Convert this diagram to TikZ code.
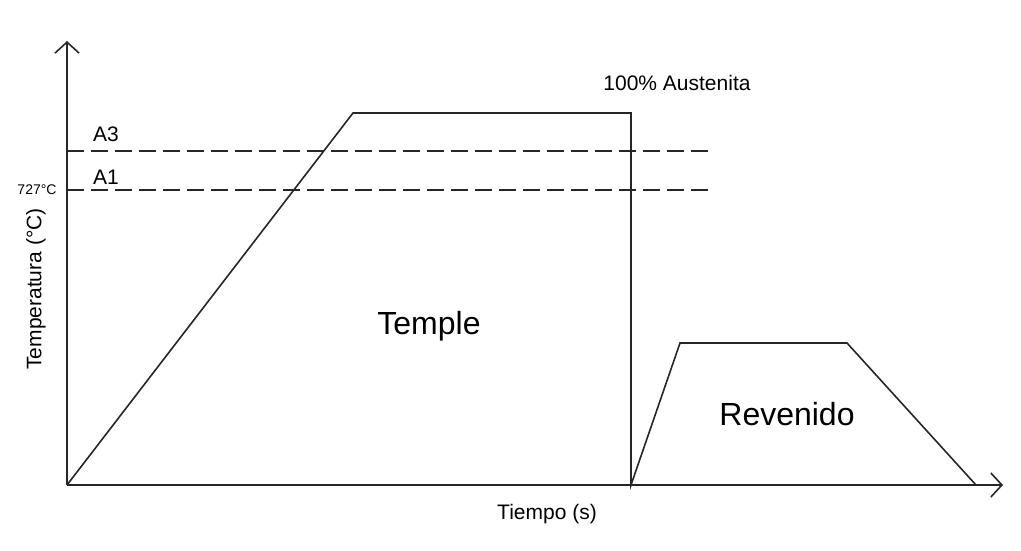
\documentclass[tikz,border=0pt]{standalone}
\usepackage{fontspec}
\setmainfont{Liberation Sans}
\usetikzlibrary{arrows.meta}
\begin{document}
\begin{tikzpicture}[x=1pt,y=-1pt,
  line/.style={line width=1.6pt, draw=black!85, line join=miter},
  dashln/.style={line width=1.4pt, draw=black!85, dash pattern=on 17pt off 7pt},
  lbl/.style={font=\fontsize{21}{24}\selectfont, inner sep=0pt},
  big/.style={font=\fontsize{32}{36}\selectfont, inner sep=0pt},
  axisarrow/.style={line width=1.6pt, draw=black!85, -{Straight Barb[length=11pt,width=24pt,line width=1.6pt]}}]
\useasboundingbox (0,0) rectangle (1021,550);
% coordinates
\coordinate (O) at (67,485);
\coordinate (ytip) at (67,41);
\coordinate (xtip) at (1003,485);
\coordinate (p1) at (353,113);
\coordinate (p2) at (631,113);
\coordinate (p3) at (631,485);
\coordinate (p4) at (680,343);
\coordinate (p5) at (847,343);
\coordinate (p6) at (976,485);
\coordinate (a3s) at (67,151);
\coordinate (a3e) at (710,151);
\coordinate (a1s) at (67,190);
\coordinate (a1e) at (710,190);
% dashed lines
\draw[dashln] (a3s) -- (a3e);
\draw[dashln] (a1s) -- (a1e);
% axes
\draw[axisarrow] (O) -- (ytip);
\draw[axisarrow] (O) -- (xtip);
% curve
\draw[line] (O) -- (p1) -- (p2) -- (p3) -- (p4) -- (p5) -- (p6);
% labels
\node[lbl] (A3) at (106,134) {A3};
\node[lbl] (A1) at (106,177) {A1};
\node[font=\fontsize{14}{16}\selectfont, inner sep=0pt] (t727) at (37,190) {727°C};
\node[lbl] (aust) at (677,83) {100\% Austenita};
\node[big] (temple) at (429,326) {Temple};
\node[big] (rev) at (787,414) {Revenido};
\node[lbl] (tiempo) at (547,514) {Tiempo (s)};
\node[lbl, rotate=90] (temp) at (36,289) {Temperatura (°C)};
\end{tikzpicture}
\end{document}
